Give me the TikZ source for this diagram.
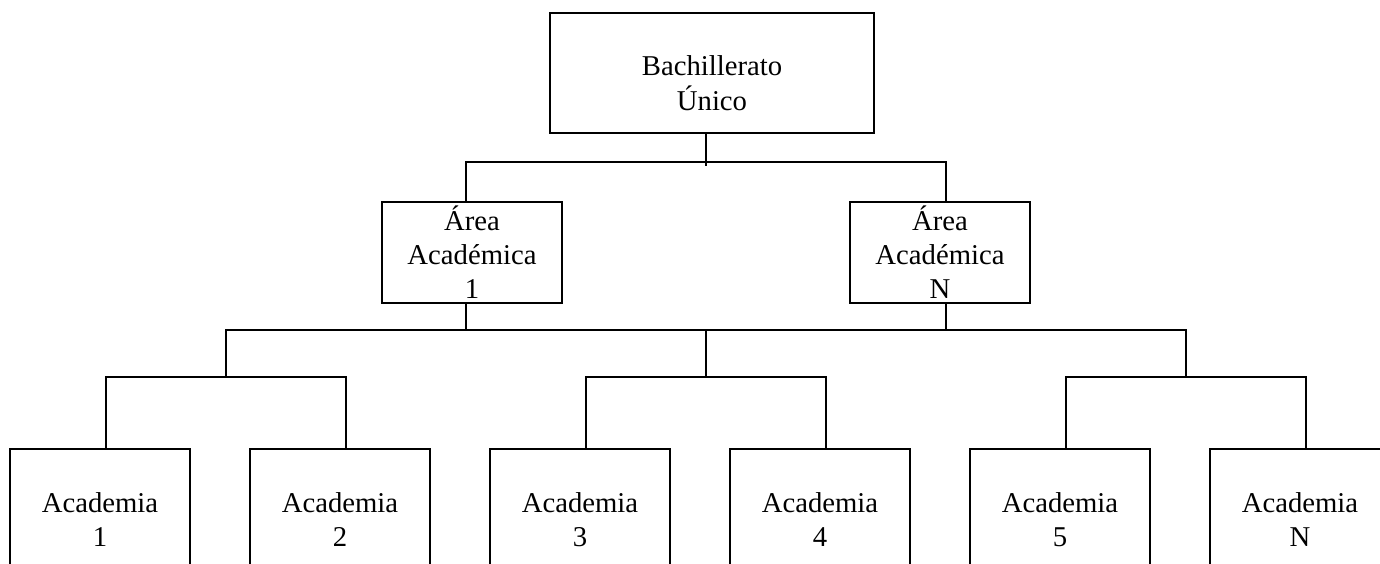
\documentclass[tikz,border=0pt]{standalone}
\usepackage{fontspec}
\setmainfont{Liberation Serif}
\newcommand{\mylines}[1]{\begin{tabular}[t]{@{}c@{}}#1\end{tabular}}
\begin{document}
\begin{tikzpicture}[x=1pt,y=-1pt,
  box/.style={draw, line width=2pt, inner sep=0pt, outer sep=0pt, anchor=north west, minimum width=180pt},
  areabox/.style={box, minimum height=101pt},
  acabox/.style={box, minimum height=160pt},
  txt/.style={anchor=base, inner sep=0pt, font=\fontsize{28.7}{34.4}\selectfont},
  conn/.style={draw, line width=2pt}]
\useasboundingbox (0,0) rectangle (1380,564);
\clip (0,0) rectangle (1380,564);
% boxes
\node[box, minimum width=324pt, minimum height=120pt] (top) at (550,13) {};
\node[areabox] (a1) at (382,202) {};
\node[areabox] (an) at (850,202) {};
\node[acabox] (k1) at (10,449) {};
\node[acabox] (k2) at (250,449) {};
\node[acabox] (k3) at (490,449) {};
\node[acabox] (k4) at (730,449) {};
\node[acabox] (k5) at (970,449) {};
\node[acabox] (kn) at (1210,449) {};
% texts
\node[txt] (topt) at (712,76) {\mylines{Bachillerato\\Único}};
\node[txt] (a1t) at (472,230) {\mylines{Área\\Académica\\1}};
\node[txt] (ant) at (940,230) {\mylines{Área\\Académica\\N}};
\node[txt] (k1t) at (100,512) {\mylines{Academia\\1}};
\node[txt] (k2t) at (340,512) {\mylines{Academia\\2}};
\node[txt] (k3t) at (580,512) {\mylines{Academia\\3}};
\node[txt] (k4t) at (820,512) {\mylines{Academia\\4}};
\node[txt] (k5t) at (1060,512) {\mylines{Academia\\5}};
\node[txt] (knt) at (1300,512) {\mylines{Academia\\N}};
% connector anchor points
\coordinate (tc) at ([xshift=-6pt]top.south);
\coordinate (tend) at (706,166);
\coordinate (bar1) at (706,162);
\coordinate (a1in) at ([xshift=-6pt]a1.north);
\coordinate (anin) at ([xshift=6pt]an.north);
\coordinate (a1out) at ([xshift=-6pt]a1.south);
\coordinate (anout) at ([xshift=6pt]an.south);
\coordinate (bar2) at (706,330);
\coordinate (g1) at (226,377);
\coordinate (g2) at (706,377);
\coordinate (g3) at (1186,377);
\coordinate (k1in) at ([xshift=6pt]k1.north);
\coordinate (k2in) at ([xshift=6pt]k2.north);
\coordinate (k3in) at ([xshift=6pt]k3.north);
\coordinate (k4in) at ([xshift=6pt]k4.north);
\coordinate (k5in) at ([xshift=6pt]k5.north);
\coordinate (knin) at ([xshift=6pt]kn.north);
% connectors
\draw[conn] (tc) -- (tc |- tend);
\draw[conn] (a1in) |- (bar1) -| (anin);
\draw[conn] (a1out) |- (bar2);
\draw[conn] (anout) |- (bar2);
\draw[conn] (g1) |- (bar2) -| (g3);
\draw[conn] (bar2) -- (g2);
\draw[conn] (k1in) |- (g1) -| (k2in);
\draw[conn] (k3in) |- (g2) -| (k4in);
\draw[conn] (k5in) |- (g3) -| (knin);
\end{tikzpicture}
\end{document}
